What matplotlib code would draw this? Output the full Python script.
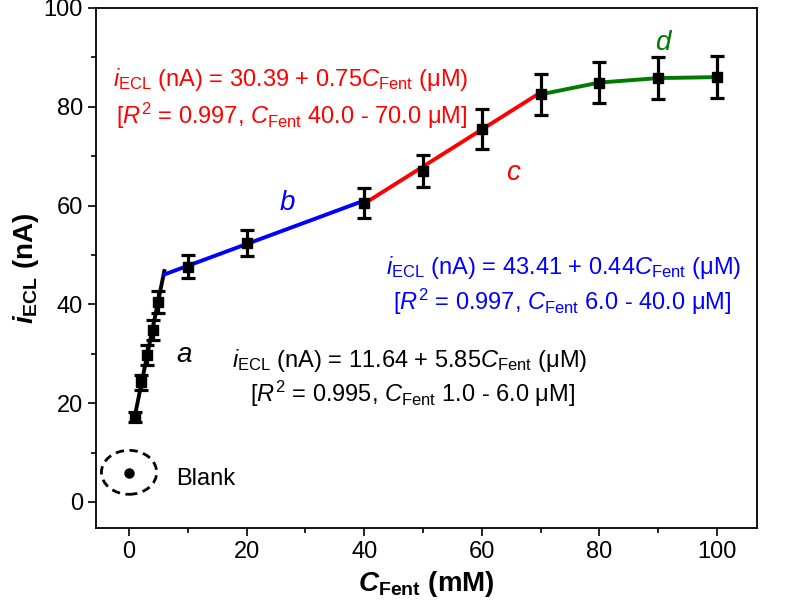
import numpy as np
import matplotlib
matplotlib.use('Agg')
from matplotlib import pyplot as plt
from matplotlib.patches import Ellipse

plt.rcParams['font.family'] = ['Liberation Sans', 'DejaVu Sans']
plt.rcParams['mathtext.fontset'] = 'custom'
plt.rcParams['mathtext.rm'] = 'Liberation Sans'
plt.rcParams['mathtext.it'] = 'Liberation Sans:italic'
plt.rcParams['mathtext.bf'] = 'Liberation Sans:bold'
plt.rcParams['mathtext.bfit'] = 'Liberation Sans:bold:italic'

# measured points
conc = [1, 2, 3, 4, 5, 10, 20, 40, 50, 60, 70, 80, 90, 100]
signal = [17.2, 24.2, 29.8, 34.8, 40.5, 47.6, 52.4, 60.5, 67.0, 75.5, 82.5, 84.9, 85.8, 86.0]
err = [1.0, 1.5, 2.0, 2.0, 2.2, 2.3, 2.6, 3.0, 3.3, 4.0, 4.2, 4.2, 4.3, 4.3]

blank_x = 0
blank_y = 5.8

# linear fits (intercept, slope, range) for regions a, b, c
fit_int = [11.64, 43.41, 30.39]
fit_slope = [5.85, 0.44, 0.75]
fit_lo = [1.0, 6.0, 40.0]
fit_hi = [6.0, 40.0, 70.0]
fit_col = ['black', '#0000ff', '#ff0000']

# region d (saturation) follows the points
d_x = [70, 80, 90, 100]
d_y = [82.5, 84.9, 85.8, 86.0]

fig = plt.figure(figsize=(8.01, 6.12), dpi=100)
ax = fig.add_axes([0.12, 0.137, 0.825, 0.85])

for b0, b1, lo, hi, c in zip(fit_int, fit_slope, fit_lo, fit_hi, fit_col):
    xx = np.array([lo, hi])
    ax.plot(xx, b0 + b1 * xx, color=c, lw=2.8, zorder=2)
ax.plot(d_x, d_y, color='#007a00', lw=2.8, zorder=2)

ax.errorbar(conc, signal, yerr=err, fmt='s', color='black', ms=7,
            elinewidth=2.3, capsize=5, capthick=2.3, zorder=3)
ax.plot(blank_x, blank_y, 'o', color='black', ms=6.5)
ax.add_patch(Ellipse((0.0, 6.0), 9.4, 8.9, fill=False, ls=(0, (3, 2)), lw=2, color='black'))
ax.text(8.0, 4.7, 'Blank', fontsize=17, va='center', ha='left')

ax.set_xlim(-5.6, 106.8)
ax.set_ylim(-5.3, 100)
ax.set_xticks([0, 20, 40, 60, 80, 100])
ax.set_xticks([10, 30, 50, 70, 90], minor=True)
ax.set_yticks([0, 20, 40, 60, 80, 100])
ax.set_yticks([10, 30, 50, 70, 90], minor=True)
ax.tick_params(which='major', length=6, width=1.2, labelsize=17, direction='out')
ax.tick_params(which='minor', length=3.5, width=1.2, direction='out')
for s in ax.spines.values():
    s.set_linewidth(1.3)

ax.set_xlabel(r'$\mathbfit{C}_{\mathbf{Fent}}$ (mM)', fontsize=20, fontweight='bold', labelpad=4)
ax.set_ylabel(r'$\mathbfit{i}_{\mathbf{ECL}}$ (nA)', fontsize=20, fontweight='bold', labelpad=2)

fs = 17
ax.text(27.4, 85.6, r'$\mathit{i}_{\mathrm{ECL}}$ (nA) = 30.39 + 0.75$\mathit{C}_{\mathrm{Fent}}$ (μM)',
        color='#ff0000', fontsize=fs, ha='center', va='center')
ax.text(27.7, 78.1, r'[$\mathit{R}^{2}$ = 0.997, $\mathit{C}_{\mathrm{Fent}}$ 40.0 - 70.0 μM]',
        color='#ff0000', fontsize=fs, ha='center', va='center')
ax.text(73.9, 47.5, r'$\mathit{i}_{\mathrm{ECL}}$ (nA) = 43.41 + 0.44$\mathit{C}_{\mathrm{Fent}}$ (μM)',
        color='#0000ff', fontsize=fs, ha='center', va='center')
ax.text(73.6, 40.5, r'[$\mathit{R}^{2}$ = 0.997, $\mathit{C}_{\mathrm{Fent}}$ 6.0 - 40.0 μM]',
        color='#0000ff', fontsize=fs, ha='center', va='center')
ax.text(47.8, 28.6, r'$\mathit{i}_{\mathrm{ECL}}$ (nA) = 11.64 + 5.85$\mathit{C}_{\mathrm{Fent}}$ (μM)',
        color='black', fontsize=fs, ha='center', va='center')
ax.text(48.3, 21.8, r'[$\mathit{R}^{2}$ = 0.995, $\mathit{C}_{\mathrm{Fent}}$ 1.0 - 6.0 μM]',
        color='black', fontsize=fs, ha='center', va='center')

ax.text(9.3, 29.8, 'a', style='italic', fontsize=20, color='black', ha='center', va='center')
ax.text(26.9, 60.6, 'b', style='italic', fontsize=20, color='#0000ff', ha='center', va='center')
ax.text(65.3, 66.6, 'c', style='italic', fontsize=20, color='#ff0000', ha='center', va='center')
ax.text(90.8, 93.0, 'd', style='italic', fontsize=20, color='#007a00', ha='center', va='center')

fig.savefig('out.png', dpi=100)
